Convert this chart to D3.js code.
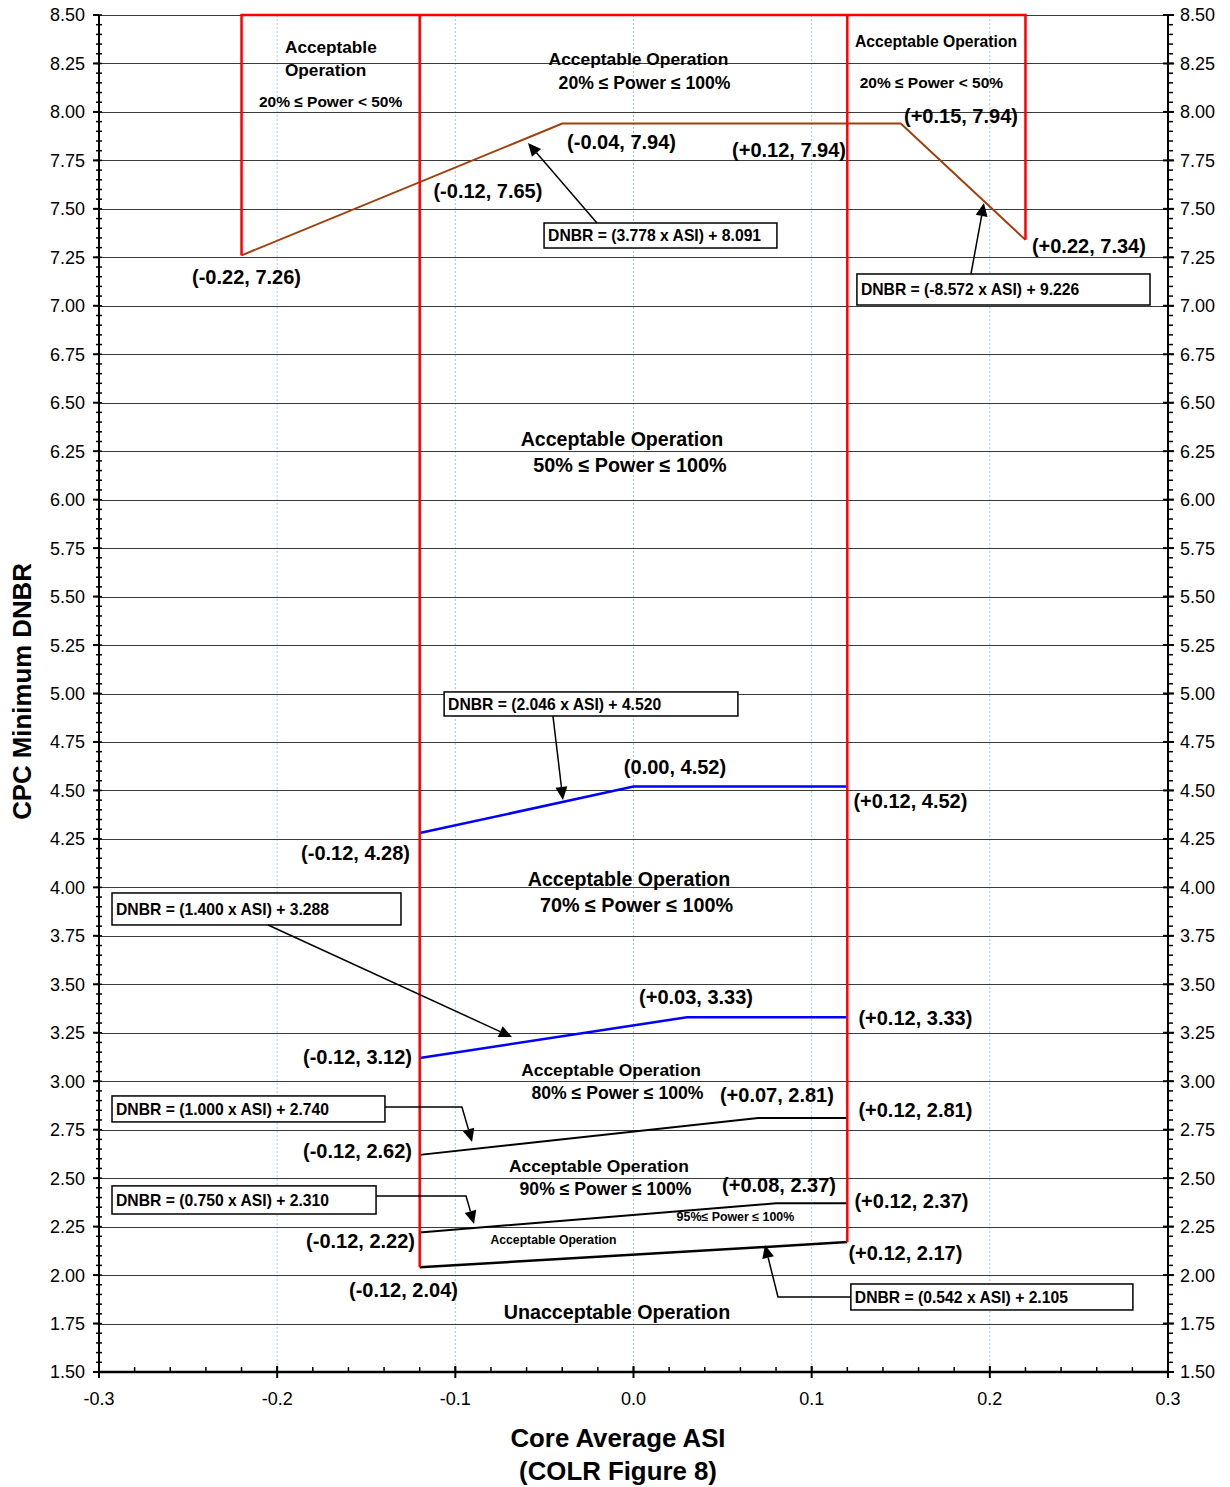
<!DOCTYPE html>
<html><head><meta charset="utf-8">
<script src="https://cdn.jsdelivr.net/npm/d3@7"></script>
<style>
body{margin:0;background:#fff;}
text{font-family:"Liberation Sans",Arial,sans-serif;}
</style></head>
<body><svg id="c" width="1230" height="1487"></svg>
<script>
// ---------- data ----------
const xTicks = [-0.3,-0.2,-0.1,0.0,0.1,0.2,0.3];
const xTickLabels = ["-0.3","-0.2","-0.1","0.0","0.1","0.2","0.3"];
const yTicks = [1.5,1.75,2,2.25,2.5,2.75,3,3.25,3.5,3.75,4,4.25,4.5,4.75,5,5.25,5.5,5.75,6,6.25,6.5,6.75,7,7.25,7.5,7.75,8,8.25,8.5];
const yTickLabels = yTicks.map(v=>v.toFixed(2));

// red boundary lines
const redBoundaries = [
  [[-0.22,7.26],[-0.22,8.5],[0.22,8.5],[0.22,7.34]],
  [[-0.12,2.04],[-0.12,8.5]],
  [[0.12,2.17],[0.12,8.5]]
];
// limit lines
const line20 = [[-0.22,7.26],[-0.04,7.94],[0.15,7.94],[0.22,7.34]];
const line50 = [[-0.12,4.28],[0.00,4.52],[0.12,4.52]];
const line70 = [[-0.12,3.12],[0.03,3.33],[0.12,3.33]];
const line80 = [[-0.12,2.62],[0.07,2.81],[0.12,2.81]];
const line90 = [[-0.12,2.22],[0.08,2.37],[0.12,2.37]];
const line95 = [[-0.12,2.04],[0.12,2.17]];

// coordinate labels [text, x, y]
const pointLabels = [
  ["(-0.22, 7.26)",-0.2172,7.149],
  ["(-0.12, 7.65)",-0.0817,7.592],
  ["(-0.04, 7.94)",-0.0067,7.845],
  ["(+0.12, 7.94)",0.0873,7.804],
  ["(+0.15, 7.94)",0.1838,7.979],
  ["(+0.22, 7.34)",0.2556,7.308],
  ["(0.00, 4.52)",0.0233,4.621],
  ["(+0.12, 4.52)",0.1554,4.446],
  ["(-0.12, 4.28)",-0.1560,4.177],
  ["(+0.03, 3.33)",0.0351,3.434],
  ["(+0.12, 3.33)",0.1582,3.326],
  ["(-0.12, 3.12)",-0.1549,3.125],
  ["(+0.07, 2.81)",0.0805,2.929],
  ["(+0.12, 2.81)",0.1582,2.851],
  ["(-0.12, 2.62)",-0.1549,2.640],
  ["(+0.08, 2.37)",0.0817,2.465],
  ["(+0.12, 2.37)",0.1560,2.382],
  ["(-0.12, 2.22)",-0.1532,2.176],
  ["(+0.12, 2.17)",0.1526,2.114],
  ["(-0.12, 2.04)",-0.1291,1.923]
];
// region labels [text, x, y, size, anchor]
const regionLabels = [
  ["Acceptable",-0.1956,8.335,17.2,"start"],
  ["Operation",-0.1956,8.216,17.2,"start"],
  ["20% ≤ Power < 50%",-0.1700,8.056,15.5,"middle"],
  ["Acceptable Operation",0.0028,8.273,17.4,"middle"],
  ["20% ≤ Power ≤ 100%",0.0062,8.149,17.6,"middle"],
  ["Acceptable Operation",0.1698,8.366,15.7,"middle"],
  ["20% ≤ Power < 50%",0.1672,8.154,15.5,"middle"],
  ["Acceptable Operation",-0.0065,6.313,19.6,"middle"],
  ["50% ≤ Power ≤ 100%",-0.0020,6.179,19.8,"middle"],
  ["Acceptable Operation",-0.0025,4.043,19.6,"middle"],
  ["70% ≤ Power ≤ 100%",0.0017,3.909,19.8,"middle"],
  ["Acceptable Operation",-0.0126,3.058,17.4,"middle"],
  ["80% ≤ Power ≤ 100%",-0.0090,2.939,17.6,"middle"],
  ["Acceptable Operation",-0.0194,2.563,17.4,"middle"],
  ["90% ≤ Power ≤ 100%",-0.0157,2.444,17.6,"middle"],
  ["95%≤ Power ≤ 100%",0.0572,2.300,12.4,"middle"],
  ["Acceptable Operation",-0.0449,2.181,12.2,"middle"],
  ["Unacceptable Operation",-0.0093,1.810,19.7,"middle"]
];
// equation boxes [text, x0, x1, yTop, yBottom]
const eqBoxes = [
  ["DNBR = (3.778 x ASI) + 8.091",-0.0502,0.0805,7.427,7.298],
  ["DNBR = (-8.572 x ASI) + 9.226",0.1254,0.2899,7.164,7.004],
  ["DNBR = (2.046 x ASI) + 4.520",-0.1063,0.0586,5.008,4.884],
  ["DNBR = (1.400 x ASI) + 3.288",-0.2927,-0.1305,3.971,3.806],
  ["DNBR = (1.000 x ASI) + 2.740",-0.2927,-0.1395,2.924,2.790],
  ["DNBR = (0.750 x ASI) + 2.310",-0.2927,-0.1445,2.460,2.315],
  ["DNBR = (0.542 x ASI) + 2.105",0.1220,0.2803,1.954,1.820]
];
// arrows (last point = head)
const arrows = [
  [[-0.0205,7.427],[-0.0592,7.840]],
  [[0.1894,7.164],[0.1967,7.530]],
  [[-0.0452,4.884],[-0.0396,4.451]],
  [[-0.2051,3.806],[-0.0682,3.228]],
  [[-0.1395,2.867],[-0.0963,2.867],[-0.0906,2.687]],
  [[-0.1445,2.408],[-0.0940,2.408],[-0.0895,2.264]],
  [[0.1220,1.887],[0.0811,1.887],[0.0738,2.155]]
];

// ---------- layout ----------
const L=99, R=1168, T=15, B=1372;
const svg = d3.select("#c");
const x = d3.scaleLinear().domain([-0.3,0.3]).range([L,R]);
const y = d3.scaleLinear().domain([1.5,8.5]).range([B,T]);
const lineGen = d3.line().x(d=>x(d[0])).y(d=>y(d[1]));

// vertical dotted gridlines
svg.append("g").selectAll("line").data(xTicks.slice(1,-1)).join("line")
  .attr("x1",d=>x(d)).attr("x2",d=>x(d)).attr("y1",T).attr("y2",B)
  .attr("stroke","#9cc8f0").attr("stroke-width",1).attr("stroke-dasharray","2,2");
// horizontal gridlines
svg.append("g").selectAll("line").data(yTicks.slice(1)).join("line")
  .attr("x1",L).attr("x2",R).attr("y1",d=>Math.round(y(d))+0.5).attr("y2",d=>Math.round(y(d))+0.5)
  .attr("stroke","#3a3a3a").attr("stroke-width",1.2);

// axes
const minorY = d3.range(1.5,8.5001,0.05);
const minorX = d3.range(-0.3,0.3001,0.02);
const axG = svg.append("g");
axG.append("line").attr("x1",L).attr("x2",L).attr("y1",T).attr("y2",B).attr("stroke","#000").attr("stroke-width",2);
axG.append("line").attr("x1",R).attr("x2",R).attr("y1",T).attr("y2",B).attr("stroke","#000").attr("stroke-width",2);
axG.append("line").attr("x1",L-1).attr("x2",R+1).attr("y1",B).attr("y2",B).attr("stroke","#000").attr("stroke-width",2.5);
// left/right y ticks
axG.selectAll(".ymn").data(minorY).join("line")
  .attr("x1",L-3).attr("x2",L+3).attr("y1",d=>y(d)).attr("y2",d=>y(d)).attr("stroke","#000").attr("stroke-width",1.5);
axG.selectAll(".ymj").data(yTicks).join("line")
  .attr("x1",L-6).attr("x2",L).attr("y1",d=>y(d)).attr("y2",d=>y(d)).attr("stroke","#000").attr("stroke-width",2);
axG.selectAll(".yrmn").data(minorY).join("line")
  .attr("x1",R).attr("x2",R+5).attr("y1",d=>y(d)).attr("y2",d=>y(d)).attr("stroke","#000").attr("stroke-width",1.5);
axG.selectAll(".yrmj").data(yTicks).join("line")
  .attr("x1",R-5).attr("x2",R+6).attr("y1",d=>y(d)).attr("y2",d=>y(d)).attr("stroke","#000").attr("stroke-width",2);
// x ticks
axG.selectAll(".xmn").data(minorX).join("line")
  .attr("x1",d=>x(d)).attr("x2",d=>x(d)).attr("y1",B-5).attr("y2",B).attr("stroke","#000").attr("stroke-width",1.5);
axG.selectAll(".xmj").data(xTicks).join("line")
  .attr("x1",d=>x(d)).attr("x2",d=>x(d)).attr("y1",B-6).attr("y2",B+6).attr("stroke","#000").attr("stroke-width",2);
// tick labels
axG.selectAll(".yl").data(yTicks).join("text")
  .attr("x",L-14).attr("y",d=>y(d)).attr("dy","0.36em").attr("text-anchor","end")
  .attr("font-size",18).text((d,i)=>yTickLabels[i]);
axG.selectAll(".yr").data(yTicks).join("text")
  .attr("x",R+12).attr("y",d=>y(d)).attr("dy","0.36em").attr("text-anchor","start")
  .attr("font-size",18).text((d,i)=>yTickLabels[i]);
axG.selectAll(".xl").data(xTicks).join("text")
  .attr("x",d=>x(d)).attr("y",B+27).attr("dy","0.36em").attr("text-anchor","middle")
  .attr("font-size",18).text((d,i)=>xTickLabels[i]);

// axis titles
svg.append("text").attr("transform",`translate(31,${(T+B)/2-2}) rotate(-90)`)
  .attr("text-anchor","middle").attr("font-size",25.8).attr("font-weight","bold").text("CPC Minimum DNBR");
svg.append("text").attr("x",618).attr("y",1447).attr("text-anchor","middle")
  .attr("font-size",25.8).attr("font-weight","bold").text("Core Average ASI");
svg.append("text").attr("x",618).attr("y",1480).attr("text-anchor","middle")
  .attr("font-size",25.8).attr("font-weight","bold").text("(COLR Figure 8)");

// limit lines
const lines = [
  [line20,"#a0400c",2],
  [line50,"#0000ff",2.5],
  [line70,"#0000ff",2.5],
  [line80,"#000",2],
  [line90,"#000",2],
  [line95,"#000",2.5]
];
svg.append("g").selectAll("path").data(lines).join("path")
  .attr("d",d=>lineGen(d[0])).attr("fill","none").attr("stroke",d=>d[1]).attr("stroke-width",d=>d[2]);
// red boundaries
svg.append("g").selectAll("path").data(redBoundaries).join("path")
  .attr("d",d=>lineGen(d)).attr("fill","none").attr("stroke","#ff0000").attr("stroke-width",2.5);

// region labels
svg.append("g").selectAll("text").data(regionLabels).join("text")
  .attr("x",d=>x(d[1])).attr("y",d=>y(d[2])).attr("dy","0.36em")
  .attr("text-anchor",d=>d[4]).attr("font-size",d=>d[3]).attr("font-weight","bold").text(d=>d[0]);
// point labels
svg.append("g").selectAll("text").data(pointLabels).join("text")
  .attr("x",d=>x(d[1])).attr("y",d=>y(d[2])).attr("dy","0.36em")
  .attr("text-anchor","middle").attr("font-size",20).attr("font-weight","bold").text(d=>d[0]);

// equation boxes
const eg = svg.append("g").selectAll("g").data(eqBoxes).join("g");
eg.append("rect").attr("x",d=>x(d[1])).attr("y",d=>y(d[3]))
  .attr("width",d=>x(d[2])-x(d[1])).attr("height",d=>y(d[4])-y(d[3]))
  .attr("fill","#fff").attr("stroke","#000").attr("stroke-width",1.5);
eg.append("text").attr("x",d=>x(d[1])+4).attr("y",d=>(y(d[3])+y(d[4]))/2).attr("dy","0.36em")
  .attr("font-size",15.7).attr("font-weight","bold").text(d=>d[0]);

// arrows
const ag = svg.append("g");
arrows.forEach(pts=>{
  const p = pts.map(d=>[x(d[0]),y(d[1])]);
  const a = p[p.length-2], b = p[p.length-1];
  const ang = Math.atan2(b[1]-a[1], b[0]-a[0]);
  const len=13, w=6;
  const bx = b[0]-len*Math.cos(ang), by = b[1]-len*Math.sin(ang);
  const pp = p.slice(0,-1).concat([[bx,by]]);
  ag.append("path").attr("d",d3.line()(pp)).attr("fill","none").attr("stroke","#000").attr("stroke-width",1.5);
  const px=-Math.sin(ang), py=Math.cos(ang);
  ag.append("path").attr("d",d3.line()([[b[0],b[1]],[bx+px*w,by+py*w],[bx-px*w,by-py*w]])+"Z").attr("fill","#000");
});
</script></body></html>
